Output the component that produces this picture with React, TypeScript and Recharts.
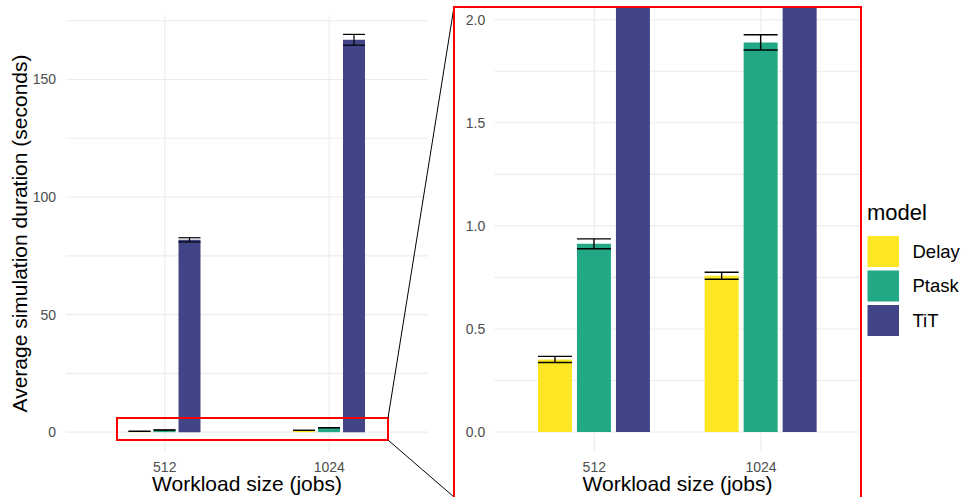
import React from 'react';
import { BarChart, Bar, XAxis, YAxis, CartesianGrid, ErrorBar } from 'recharts';

const categories = ['512', '1024'];
const modelNames = ['Delay', 'Ptask', 'TiT'];
const modelColors = ['#FDE725', '#22A884', '#414487'];
const delayMean = [0.352, 0.758];
const delayErr = [0.015, 0.017];
const ptaskMean = [0.913, 1.89];
const ptaskErr = [0.024, 0.037];
const titMean = [81.8, 166.9];
const titErr = [0.9, 2.3];
const fullTicks = [0, 25, 50, 75, 100, 125, 150, 175];
const fullMajorTicks = [0, 50, 100, 150];
const zoomTicks = [0, 0.25, 0.5, 0.75, 1, 1.25, 1.5, 1.75, 2];
const zoomMajorTicks = [0, 0.5, 1, 1.5, 2];

const data = categories.map((size, i) => ({
  size,
  Delay: delayMean[i],
  DelayErr: delayErr[i],
  Ptask: ptaskMean[i],
  PtaskErr: ptaskErr[i],
  TiT: titMean[i],
  TiTErr: titErr[i],
}));

const FONT = '"Liberation Sans", Arial, Helvetica, sans-serif';
const GRID = '#EBEBEB';
const TICK = { fill: '#4D4D4D', fontSize: 14, fontFamily: FONT };

const isIn = (arr: number[], v: number) => arr.some((m) => Math.abs(m - v) < 1e-9);

const applyScale = (s: any, v: any): number | undefined => {
  if (!s) return undefined;
  if (typeof s === 'function') return s(v);
  if (typeof s.map === 'function') return s.map(v);
  return undefined;
};

const hGen = (values: number[]) => (props: any) => {
  const s = props?.yAxis?.scale;
  return values.map((v) => applyScale(s, v)).filter((c): c is number => typeof c === 'number' && isFinite(c));
};

const vGen = (values: string[]) => (props: any) => {
  const s = props?.xAxis?.scale;
  const bw = s && typeof s.bandwidth === 'function' ? s.bandwidth() : 0;
  return values
    .map((v) => {
      const c = applyScale(s, v);
      return typeof c === 'number' ? c + bw / 2 : undefined;
    })
    .filter((c): c is number => typeof c === 'number' && isFinite(c));
};

export default function App() {
  return (
    <div style={{ position: 'absolute', left: 0, top: 0, width: 965, height: 497, background: '#fff', fontFamily: FONT }}>
      <div style={{ position: 'absolute', left: 0, top: 0 }}>
        <BarChart width={440} height={497} data={data} margin={{ top: 15, right: 12, bottom: 15, left: 0 }} barGap={3}>
          <CartesianGrid
            stroke={GRID}
            strokeWidth={1.1}
            horizontalCoordinatesGenerator={hGen(fullTicks)}
            verticalCoordinatesGenerator={vGen(categories)}
          />
          <XAxis
            dataKey="size"
            height={30}
            tickLine={false}
            axisLine={false}
            tickSize={0}
            tickMargin={10}
            padding={{ left: 16.5, right: 16.5 }}
            tick={TICK}
          />
          <YAxis
            width={66}
            type="number"
            domain={[-8.45, 177.45]}
            ticks={fullTicks}
            interval={0}
            tickLine={false}
            axisLine={false}
            tickSize={0}
            tickMargin={10}
            tick={TICK}
            tickFormatter={(v: number) => (isIn(fullMajorTicks, v) ? String(v) : '')}
          />
          <Bar dataKey="Delay" fill={modelColors[0]} barSize={22} isAnimationActive={false}>
            <ErrorBar dataKey="DelayErr" width={11} stroke="#000" strokeWidth={1.2} direction="y" />
          </Bar>
          <Bar dataKey="Ptask" fill={modelColors[1]} barSize={22} isAnimationActive={false}>
            <ErrorBar dataKey="PtaskErr" width={11} stroke="#000" strokeWidth={1.2} direction="y" />
          </Bar>
          <Bar dataKey="TiT" fill={modelColors[2]} barSize={22} isAnimationActive={false}>
            <ErrorBar dataKey="TiTErr" width={11} stroke="#000" strokeWidth={1.2} direction="y" />
          </Bar>
        </BarChart>
      </div>
      <div style={{ position: 'absolute', left: 440, top: 0 }}>
        <BarChart width={440} height={497} data={data} margin={{ top: 8, right: 19, bottom: 15, left: 0 }} barGap={5}>
          <CartesianGrid
            stroke={GRID}
            strokeWidth={1.1}
            horizontalCoordinatesGenerator={hGen(zoomTicks)}
            verticalCoordinatesGenerator={vGen(categories)}
          />
          <XAxis
            dataKey="size"
            height={30}
            tickLine={false}
            axisLine={false}
            tickSize={0}
            tickMargin={10}
            padding={{ left: 16.65, right: 16.65 }}
            tick={TICK}
          />
          <YAxis
            width={54.3}
            type="number"
            domain={[-0.097, 2.057]}
            allowDataOverflow={true}
            ticks={zoomTicks}
            interval={0}
            tickLine={false}
            axisLine={false}
            tickSize={0}
            tickMargin={9}
            tick={TICK}
            tickFormatter={(v: number) => (isIn(zoomMajorTicks, v) ? v.toFixed(1) : '')}
          />
          <Bar dataKey="Delay" fill={modelColors[0]} barSize={34} isAnimationActive={false}>
            <ErrorBar dataKey="DelayErr" width={17} stroke="#000" strokeWidth={1.4} direction="y" />
          </Bar>
          <Bar dataKey="Ptask" fill={modelColors[1]} barSize={34} isAnimationActive={false}>
            <ErrorBar dataKey="PtaskErr" width={17} stroke="#000" strokeWidth={1.4} direction="y" />
          </Bar>
          <Bar dataKey="TiT" fill={modelColors[2]} barSize={34} isAnimationActive={false} />
        </BarChart>
      </div>
      <svg width={965} height={497} style={{ position: 'absolute', left: 0, top: 0, pointerEvents: 'none' }}>
        <rect x={117} y={418} width={271} height={22} fill="none" stroke="#FF0000" strokeWidth={2} />
        <line x1={388} y1={418} x2={454} y2={7} stroke="#000" strokeWidth={1} />
        <line x1={388} y1={440} x2={454} y2={497} stroke="#000" strokeWidth={1} />
        <rect x={454} y={7} width={407} height={494} fill="none" stroke="#FF0000" strokeWidth={2} />
        <text x={247} y={491} textAnchor="middle" fontSize={21} fontFamily={FONT} fill="#000">Workload size (jobs)</text>
        <text x={677.5} y={491} textAnchor="middle" fontSize={21} fontFamily={FONT} fill="#000">Workload size (jobs)</text>
        <text x={27} y={233.5} transform="rotate(-90 27 233.5)" textAnchor="middle" fontSize={21} fontFamily={FONT} fill="#000">Average simulation duration (seconds)</text>
        <text x={867} y={220} fontSize={22} fontFamily={FONT} fill="#000">model</text>
        {modelNames.map((name, i) => (
          <g key={name}>
            <rect x={867.5} y={236 + i * 34.5} width={31.5} height={31} fill={modelColors[i]} />
            <text x={912.5} y={236 + i * 34.5 + 15.5} dy="0.35em" fontSize={18.5} fontFamily={FONT} fill="#000">{name}</text>
          </g>
        ))}
      </svg>
    </div>
  );
}
